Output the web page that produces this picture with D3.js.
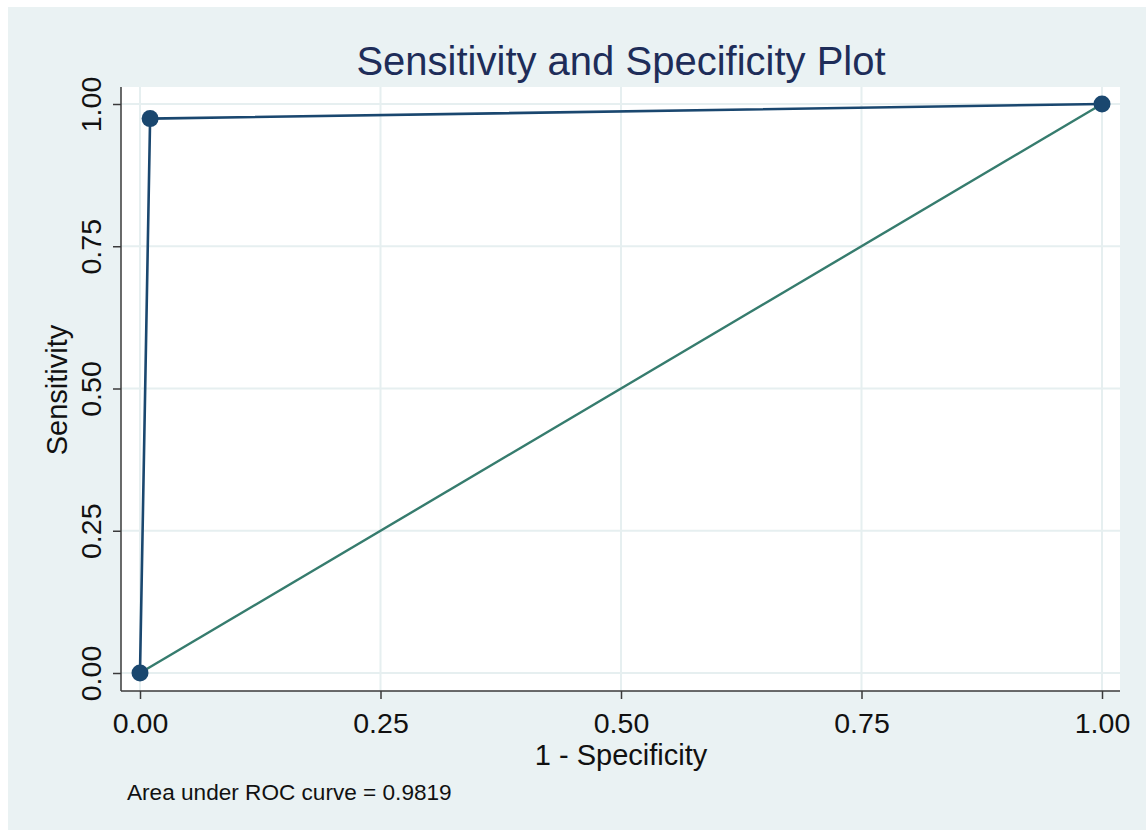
<!DOCTYPE html>
<html>
<head>
    <title>ROC</title>
    <style>
        body { margin: 0; background: #ffffff; }
        text { font-family: "Liberation Sans", Arial, sans-serif; }
    </style>
</head>
<body>
    <script type='text/javascript' src='https://d3js.org/d3.v7.min.js'></script>
    <div id="chart"></div>
    <script>
        // roc points: 1 - specificity, sensitivity
        var fpr = [0, 0.0105, 1];
        var tpr = [0, 0.9743, 1];
        var refX = [0, 1];
        var refY = [0, 1];
        var tickVals = [0, 0.25, 0.5, 0.75, 1];
        var auc = 0.9819;

        var width = 1146, height = 832;
        var plot = { left: 121, right: 1120, top: 87, bottom: 691 };

        var svg = d3.select("#chart").append("svg")
            .attr("width", width).attr("height", height);

        // stata style background
        svg.append("rect").attr("x", 8).attr("y", 7)
            .attr("width", width - 8).attr("height", 823)
            .attr("fill", "#eaf2f3");
        svg.append("rect").attr("x", plot.left).attr("y", plot.top)
            .attr("width", plot.right - plot.left).attr("height", plot.bottom - plot.top)
            .attr("fill", "#ffffff");

        var x = d3.scaleLinear().domain([0, 1]).range([140, 1102]);
        var y = d3.scaleLinear().domain([0, 1]).range([673, 104]);

        // grid
        svg.append("g").selectAll("line").data(tickVals).enter().append("line")
            .attr("x1", d => x(d)).attr("x2", d => x(d))
            .attr("y1", plot.top).attr("y2", plot.bottom)
            .attr("stroke", "#e6eff0").attr("stroke-width", 2);
        svg.append("g").selectAll("line").data(tickVals).enter().append("line")
            .attr("y1", d => y(d)).attr("y2", d => y(d))
            .attr("x1", plot.left).attr("x2", plot.right)
            .attr("stroke", "#e6eff0").attr("stroke-width", 2);

        // axes
        var xAxis = d3.axisBottom(x).tickValues(tickVals).tickFormat(d3.format(".2f"))
            .tickSize(8).tickPadding(14);
        var gx = svg.append("g").attr("transform", "translate(0," + plot.bottom + ")").call(xAxis);
        gx.select(".domain").remove();
        gx.append("line").attr("x1", plot.left).attr("x2", plot.right)
            .attr("stroke", "#3a3a3a").attr("stroke-width", 1.5);
        gx.selectAll(".tick line").attr("stroke", "#3a3a3a").attr("stroke-width", 1.5);
        gx.selectAll(".tick text").attr("font-size", "28.5px").attr("fill", "#111")
            .attr("font-family", "'Liberation Sans', Arial, sans-serif");

        var yAxis = d3.axisLeft(y).tickValues(tickVals).tickFormat(d3.format(".2f"))
            .tickSize(8).tickPadding(0);
        var gy = svg.append("g").attr("transform", "translate(" + plot.left + ",0)").call(yAxis);
        gy.select(".domain").remove();
        gy.append("line").attr("y1", plot.top).attr("y2", plot.bottom)
            .attr("stroke", "#3a3a3a").attr("stroke-width", 1.5);
        gy.selectAll(".tick line").attr("stroke", "#3a3a3a").attr("stroke-width", 1.5);
        gy.selectAll(".tick text")
            .attr("x", 0).attr("dy", null).attr("y", 0)
            .attr("text-anchor", "middle")
            .attr("transform", "translate(-20,0) rotate(-90)")
            .attr("font-size", "28.5px").attr("fill", "#111")
            .attr("font-family", "'Liberation Sans', Arial, sans-serif");

        // reference line
        var line = d3.line().x(d => x(d[0])).y(d => y(d[1]));
        svg.append("path").datum(d3.zip(refX, refY))
            .attr("d", line).attr("fill", "none")
            .attr("stroke", "#367c6e").attr("stroke-width", 2.4);

        // roc curve
        svg.append("path").datum(d3.zip(fpr, tpr))
            .attr("d", line).attr("fill", "none")
            .attr("stroke", "#1a476f").attr("stroke-width", 2.6);
        svg.append("g").selectAll("circle").data(d3.zip(fpr, tpr)).enter().append("circle")
            .attr("cx", d => x(d[0])).attr("cy", d => y(d[1])).attr("r", 8.5)
            .attr("fill", "#1a476f");

        // titles
        svg.append("text").attr("x", 621).attr("y", 75).attr("text-anchor", "middle")
            .attr("font-size", "40px").attr("fill", "#1e2d59")
            .text("Sensitivity and Specificity Plot");
        svg.append("text").attr("x", 621).attr("y", 765).attr("text-anchor", "middle")
            .attr("font-size", "29px").attr("fill", "#111")
            .text("1 - Specificity");
        svg.append("text").attr("transform", "translate(67,390) rotate(-90)")
            .attr("text-anchor", "middle")
            .attr("font-size", "29px").attr("fill", "#111")
            .text("Sensitivity");
        svg.append("text").attr("x", 127).attr("y", 800)
            .attr("font-size", "22.6px").attr("fill", "#111")
            .text("Area under ROC curve = " + auc.toFixed(4));
    </script>
</body>
</html>
